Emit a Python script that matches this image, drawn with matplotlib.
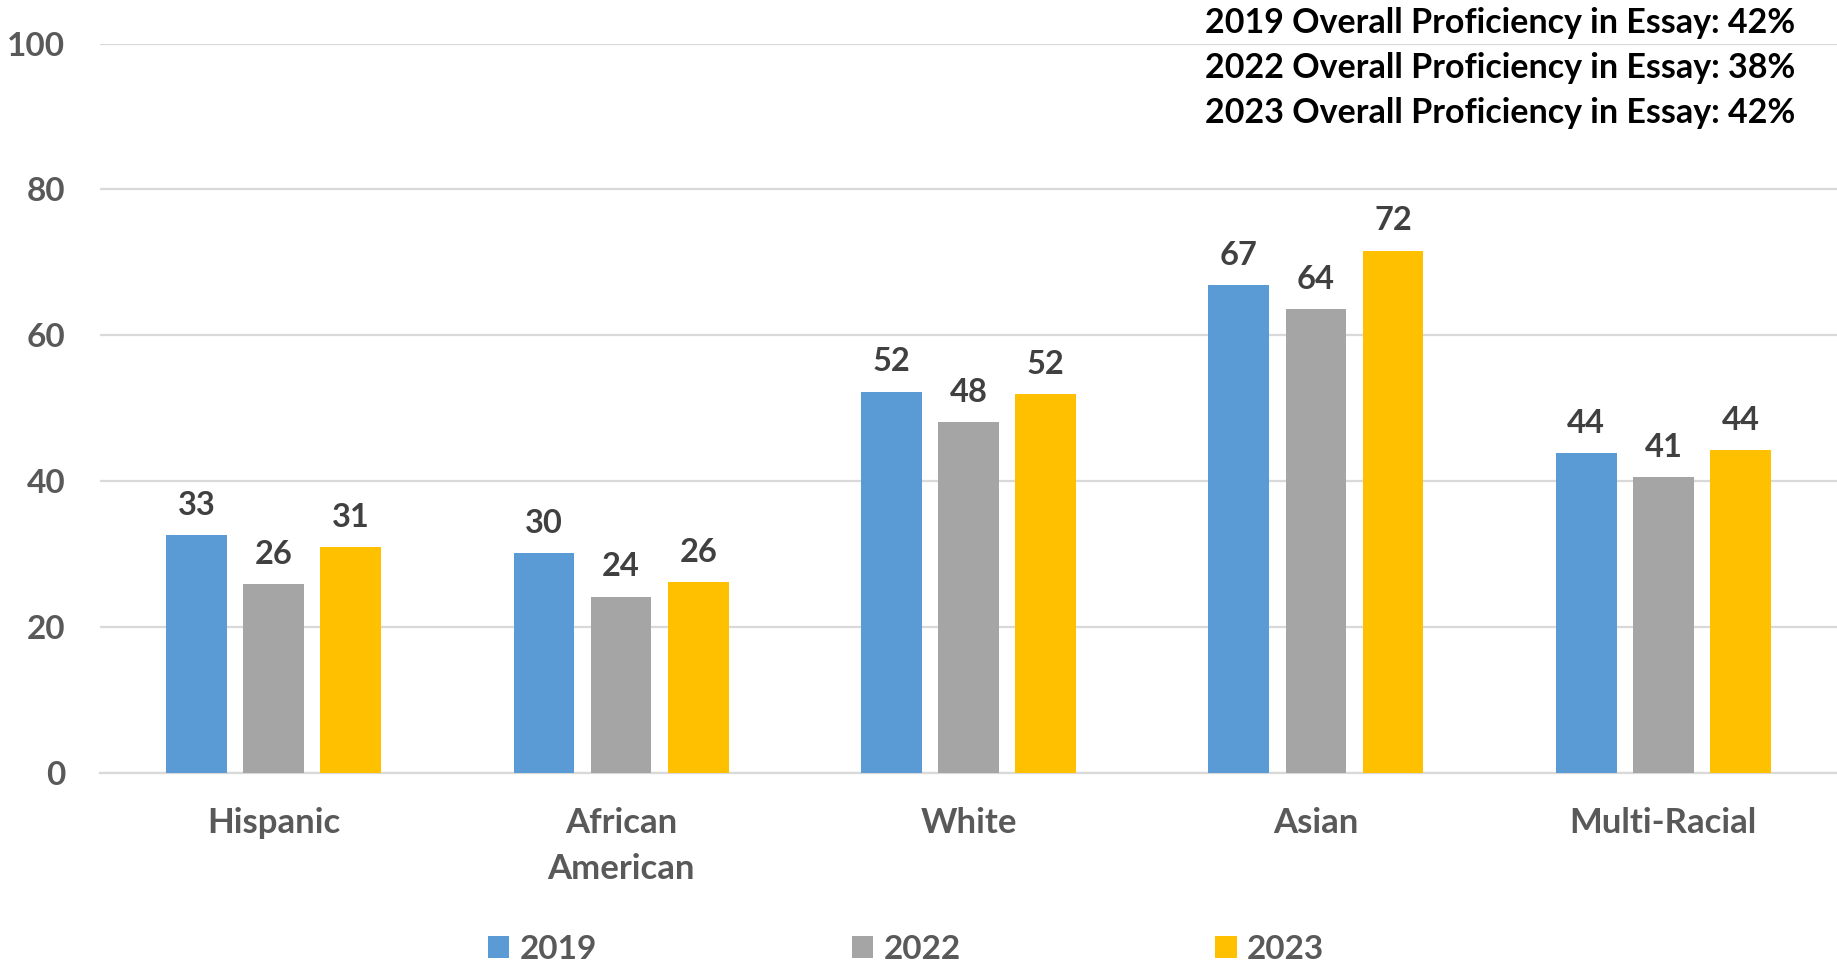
import matplotlib
matplotlib.use("Agg")
import matplotlib.pyplot as plt
import numpy as np
from matplotlib.patches import Patch

categories = ["Hispanic", "African\nAmerican", "White", "Asian", "Multi-Racial"]
series_names = ["2019", "2022", "2023"]
values_2019 = [32.6, 30.2, 52.3, 66.9, 43.9]
values_2022 = [25.9, 24.2, 48.1, 63.6, 40.6]
values_2023 = [31.0, 26.2, 52.0, 71.6, 44.3]
overall_notes = ["2019 Overall Proficiency in Essay: 42%",
                 "2022 Overall Proficiency in Essay: 38%",
                 "2023 Overall Proficiency in Essay: 42%"]
yticks = [0, 20, 40, 60, 80, 100]

colors = ["#5B9BD5", "#A5A5A5", "#FFC000"]
plt.rcParams['font.family'] = ['Lato', 'DejaVu Sans']

W, H = 1837, 963
fig = plt.figure(figsize=(W / 100, H / 100), dpi=100)
ax = fig.add_axes([100 / W, 1 - 773.3 / H, 1737 / W, (773.3 - 43.5) / H])

x = np.arange(len(categories))
bw = 0.175
off = 0.222
for i, (vals, c) in enumerate(zip([values_2019, values_2022, values_2023], colors)):
    bars = ax.bar(x + (i - 1) * off, vals, width=bw, color=c, zorder=3)
    ax.bar_label(bars, labels=[f"{v:.0f}" for v in vals], padding=11,
                 fontsize=23.5, fontweight='bold', color='#404040')

ax.set_xlim(-0.5, len(categories) - 0.5)
ax.set_ylim(0, 100)
ax.set_yticks(yticks)
ax.yaxis.grid(True, color='#D9D9D9', linewidth=1.6, zorder=0)
ax.set_axisbelow(True)
for s in ['top', 'right', 'left']:
    ax.spines[s].set_visible(False)
ax.spines['bottom'].set_color('#D9D9D9')
ax.spines['bottom'].set_linewidth(1.6)
ax.tick_params(axis='y', length=0, pad=25, labelsize=24, labelcolor='#595959')
ax.tick_params(axis='x', length=0, pad=24, labelsize=25, labelcolor='#595959')
ax.set_xticks(x)
ax.set_xticklabels(categories, fontweight='bold', linespacing=1.55)
for lab in ax.get_yticklabels():
    lab.set_fontweight('bold')

for k, note in enumerate(overall_notes):
    fig.text(1795 / W, 1 - (23 + 45 * k) / H, note, ha='right', va='center',
             fontsize=24.5, fontweight='bold', color='black')

handles = [Patch(facecolor=c, edgecolor='none') for c in colors]
leg = fig.legend(handles, series_names, loc='center', bbox_to_anchor=(906 / W, 1 - 949 / H),
                 ncol=3, frameon=False, fontsize=24, handlelength=0.65, handleheight=0.65,
                 handletextpad=0.3, columnspacing=7.65, borderaxespad=0)
for t in leg.get_texts():
    t.set_color('#595959')
    t.set_fontweight('bold')

fig.savefig("out.png", dpi=100)
